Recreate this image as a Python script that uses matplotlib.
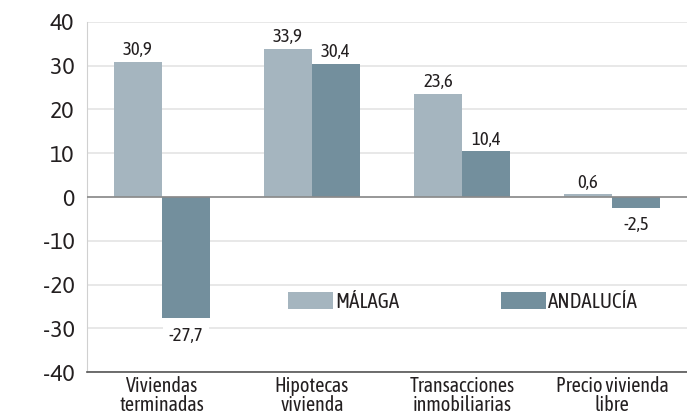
import matplotlib
matplotlib.use("Agg")
import matplotlib.pyplot as plt
import numpy as np

plt.rcParams['font.family'] = ['Asap Condensed', 'PT Sans Narrow', 'DejaVu Sans']

categories = ["Viviendas\nterminadas", "Hipotecas\nvivienda", "Transacciones\ninmobiliarias", "Precio vivienda\nlibre"]
malaga = [30.9, 33.9, 23.6, 0.6]
andalucia = [-27.7, 30.4, 10.4, -2.5]
malaga_labels = ["30,9", "33,9", "23,6", "0,6"]
andalucia_labels = ["-27,7", "30,4", "10,4", "-2,5"]
yticks = [-40, -30, -20, -10, 0, 10, 20, 30, 40]

c_mal = "#a5b5bf"
c_and = "#738f9d"
txt = "#231f20"

fig = plt.figure(figsize=(6.87, 4.15), dpi=100)
ax = fig.add_axes([87/687, 43/415, 600/687, 350/415])

x = np.arange(len(categories))
w = 0.32
b1 = ax.bar(x - w/2, malaga, w, color=c_mal, label="MÁLAGA", zorder=3)
b2 = ax.bar(x + w/2, andalucia, w, color=c_and, label="ANDALUCÍA", zorder=3)

for i, v in enumerate(malaga):
    ax.annotate(malaga_labels[i], (x[i] - w/2, v), xytext=(0, 2), textcoords="offset points",
                ha="center", va="bottom", fontsize=13.5, color=txt, zorder=5)
for i, v in enumerate(andalucia):
    if v >= 0:
        ax.annotate(andalucia_labels[i], (x[i] + w/2, v), xytext=(0, 2), textcoords="offset points",
                    ha="center", va="bottom", fontsize=13.5, color=txt, zorder=5)
    else:
        ax.annotate(andalucia_labels[i], (x[i] + w/2, v), xytext=(0, -6), textcoords="offset points",
                    ha="center", va="top", fontsize=13.5, color=txt, zorder=2.5,
                    bbox=dict(boxstyle="square,pad=0.3", fc="white", ec="none"))

ax.set_xlim(-0.5, len(categories) - 0.5)
ax.set_ylim(-40, 40)
ax.set_yticks(yticks)
ax.set_yticklabels([str(t) for t in yticks], fontsize=16.5, color=txt, family=['Asap', 'DejaVu Sans'])
ax.set_xticks(x)
ax.set_xticklabels(categories, fontsize=14.5, color=txt, linespacing=0.95)
ax.tick_params(axis="both", length=0)
ax.tick_params(axis="x", pad=3)
ax.tick_params(axis="y", pad=9)

ax.grid(axis="y", color="#e4e4e4", linewidth=1.2, zorder=0)
ax.axhline(0, color="#8a8a8a", linewidth=1.2, zorder=4)
for s in ["top", "right"]:
    ax.spines[s].set_visible(False)
ax.spines["left"].set_color("#d0d0d0")
ax.spines["bottom"].set_color("#555555")
ax.spines["bottom"].set_linewidth(1.2)

common = dict(frameon=False, fontsize=15, handlelength=2.15, handleheight=0.85, handletextpad=0.1,
              labelcolor=txt, borderaxespad=0, borderpad=0)
l1 = ax.legend([b1], ["MÁLAGA"], loc="center left", bbox_to_anchor=(201/600, 0.2), **common)
ax.add_artist(l1)
ax.legend([b2], ["ANDALUCÍA"], loc="center left", bbox_to_anchor=(414/600, 0.2), **common)

fig.savefig("out.png", dpi=100)
